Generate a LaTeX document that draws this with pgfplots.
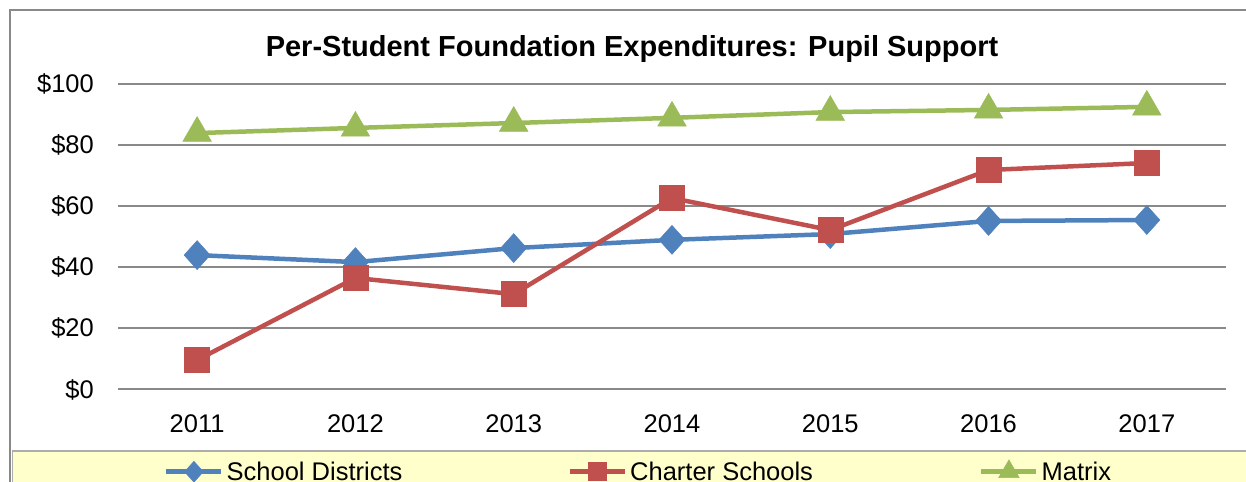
\documentclass[border=0pt]{standalone}
\usepackage{pgfplots}
\pgfplotsset{compat=1.18}
\usepackage{fontspec}
\setmainfont{Liberation Sans}
\definecolor{sdblue}{HTML}{4F81BD}
\definecolor{csred}{HTML}{C0504D}
\definecolor{mxgreen}{HTML}{9BBB59}
\definecolor{gridgray}{HTML}{898989}
\definecolor{legyellow}{HTML}{FFFFCC}
\begin{document}
\begin{tikzpicture}
\useasboundingbox (0bp,0bp) rectangle (1246bp,482bp);
\begin{scope}
\clip (0bp,0bp) rectangle (1246bp,482bp);
% outer frame
\draw[gridgray, line width=2bp] (10bp,-10bp) -- (10bp,472bp) -- (1300bp,472bp);
% legend band
\draw[fill=legyellow, draw=gridgray!70, line width=1.2bp] (12.5bp,-20bp) rectangle (1300bp,31bp);
\node[anchor=base, font=\fontsize{29bp}{34bp}\selectfont\bfseries] at (632bp,425bp) {Per-Student Foundation Expenditures: Pupil Support};
\begin{axis}[
  at={(118bp,93bp)}, anchor=south west,
  scale only axis, width=1108bp, height=305bp,
  xmin=-0.5, xmax=6.5, ymin=0, ymax=100,
  xtick={0,1,2,3,4,5,6},
  xticklabels={2011,2012,2013,2014,2015,2016,2017},
  ytick={0,20,40,60,80,100},
  yticklabels={\$0,\$20,\$40,\$60,\$80,\$100},
  axis line style={draw=none},
  major tick length=0pt,
  ymajorgrids, grid style={gridgray, line width=1.5bp},
  /pgf/number format/assume math mode=true,
  ticklabel style={font=\fontsize{25.5bp}{30bp}\selectfont, inner sep=0pt},
  xticklabel style={anchor=base, yshift=-43bp},
  yticklabel style={anchor=base east, xshift=-24bp, yshift=-9bp},
  clip=false,
  legend columns=3,
  legend style={at={(axis description cs:0.0415,-0.2689)}, anchor=west, draw=none, fill=none, inner sep=0pt,
    nodes={inner sep=0pt, font=\fontsize{25.5bp}{30bp}\selectfont},
    /tikz/every odd column/.append style={column sep=3bp}},
  legend cell align=left,
  legend image code/.code={\draw[mark repeat=2, mark phase=2, every mark/.append style={scale=0.72}] plot coordinates {(0bp,0bp) (27.5bp,0bp) (55bp,0bp)};},
]
\addplot[sdblue, line width=4.5bp, mark=diamond*, mark size=14.5bp, mark options={solid, xscale=1.2, fill=sdblue, draw=sdblue, line width=0.5bp}]
  coordinates {(0,43.9) (1,41.6) (2,46.2) (3,48.9) (4,50.8) (5,55.1) (6,55.4)};
\addlegendentry{\makebox[341bp][l]{School Districts}}
\addplot[csred, line width=4.5bp, mark=square*, mark size=12.5bp, mark options={solid, fill=csred, draw=csred, line width=0.5bp}]
  coordinates {(0,9.5) (1,36.4) (2,31.1) (3,62.6) (4,52.1) (5,71.8) (6,74.1)};
\addlegendentry{\makebox[349bp][l]{Charter Schools}}
\addplot[mxgreen, line width=4.5bp, mark=triangle*, mark size=16.5bp, mark options={solid, fill=mxgreen, draw=mxgreen, line width=0.5bp}]
  coordinates {(0,83.9) (1,85.6) (2,87.2) (3,88.9) (4,90.8) (5,91.5) (6,92.5)};
\addlegendentry{Matrix}
\end{axis}
\end{scope}
\end{tikzpicture}
\end{document}
